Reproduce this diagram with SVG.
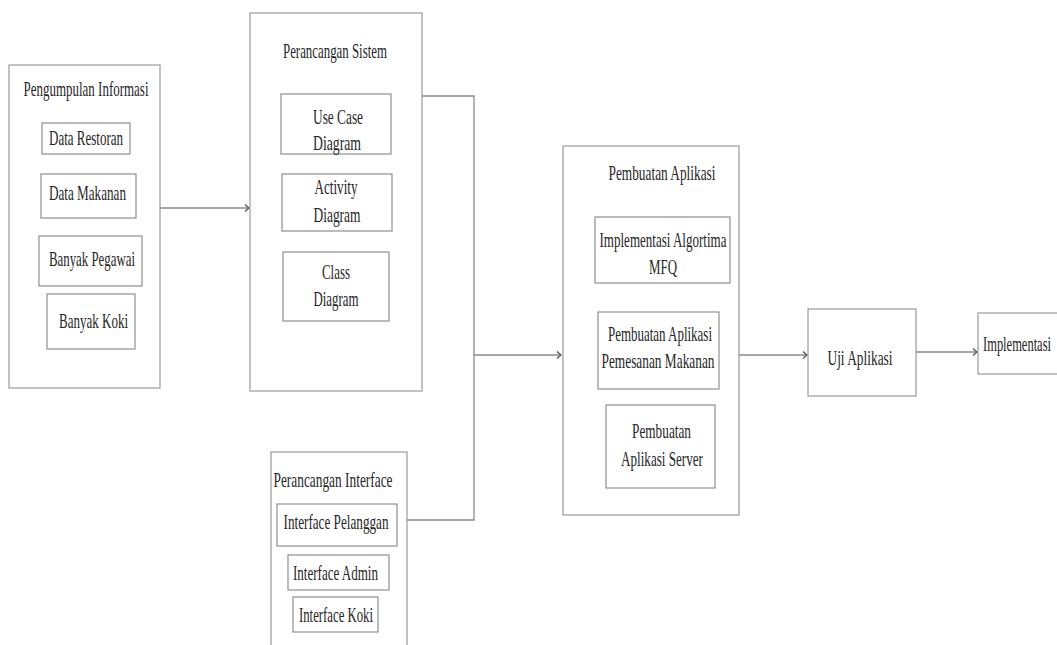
<svg xmlns="http://www.w3.org/2000/svg" width="1057" height="645" viewBox="0 0 1057 645">
  <defs>
    <marker id="chev" markerUnits="userSpaceOnUse" markerWidth="8" markerHeight="10" refX="5" refY="4" orient="auto">
      <path d="M1,0.5 L5,4 L1,7.5" fill="none" stroke="#555" stroke-width="1.3"/>
    </marker>
    <style>
      .box { fill: #fff; stroke: #9a9a9a; stroke-width: 1.2; }
      .item { fill: #fff; stroke: #8f8f8f; stroke-width: 1.2; }
      .lbl { font-family: "Liberation Serif", "Times New Roman", serif; font-size: 21px; fill: #262626; text-anchor: middle; }
      .edge { fill: none; stroke: #8a8a8a; stroke-width: 1.3; }
    </style>
  </defs>
  <rect width="1057" height="645" fill="#fff"/>

  <!-- connectors -->
  <g id="connectors">
    <path class="edge" d="M160,208 H249" marker-end="url(#chev)"/>
    <path class="edge" d="M422,96 H474 V355 H561" marker-end="url(#chev)"/>
    <path class="edge" d="M407,520 H474 V355"/>
    <path class="edge" d="M739,355 H807" marker-end="url(#chev)"/>
    <path class="edge" d="M916,352 H977" marker-end="url(#chev)"/>
  </g>

  <!-- Pengumpulan Informasi -->
  <g id="pengumpulan">
    <rect class="box" x="9" y="65" width="151" height="323"/>
    <text class="lbl" x="86" y="96" textLength="125" lengthAdjust="spacingAndGlyphs">Pengumpulan Informasi</text>
    <rect class="item" x="42" y="123" width="88" height="31"/>
    <text class="lbl" x="86" y="145" textLength="74" lengthAdjust="spacingAndGlyphs">Data Restoran</text>
    <rect class="item" x="41" y="174" width="95" height="44"/>
    <text class="lbl" x="87.5" y="200" textLength="77" lengthAdjust="spacingAndGlyphs">Data Makanan</text>
    <rect class="item" x="39" y="236" width="103" height="50"/>
    <text class="lbl" x="92" y="266" textLength="86" lengthAdjust="spacingAndGlyphs">Banyak Pegawai</text>
    <rect class="item" x="47" y="294" width="88" height="55"/>
    <text class="lbl" x="93.5" y="328" textLength="69" lengthAdjust="spacingAndGlyphs">Banyak Koki</text>
  </g>

  <!-- Perancangan Sistem -->
  <g id="perancangan-sistem">
    <rect class="box" x="250" y="13" width="172" height="378"/>
    <text class="lbl" x="335" y="58" textLength="104" lengthAdjust="spacingAndGlyphs">Perancangan Sistem</text>
    <rect class="item" x="281" y="94" width="110" height="60"/>
    <text class="lbl" x="338" y="124" textLength="50" lengthAdjust="spacingAndGlyphs">Use Case</text>
    <text class="lbl" x="337" y="150" textLength="48" lengthAdjust="spacingAndGlyphs">Diagram</text>
    <rect class="item" x="282" y="174" width="110" height="57"/>
    <text class="lbl" x="336" y="194" textLength="43" lengthAdjust="spacingAndGlyphs">Activity</text>
    <text class="lbl" x="337" y="222" textLength="47" lengthAdjust="spacingAndGlyphs">Diagram</text>
    <rect class="item" x="283" y="252" width="106" height="69"/>
    <text class="lbl" x="336" y="279" textLength="28" lengthAdjust="spacingAndGlyphs">Class</text>
    <text class="lbl" x="336" y="306" textLength="45" lengthAdjust="spacingAndGlyphs">Diagram</text>
  </g>

  <!-- Perancangan Interface -->
  <g id="perancangan-interface">
    <rect class="box" x="271" y="452" width="136" height="220"/>
    <text class="lbl" x="333" y="487" textLength="119" lengthAdjust="spacingAndGlyphs">Perancangan Interface</text>
    <rect class="item" x="277" y="504" width="120" height="42"/>
    <text class="lbl" x="336" y="529" textLength="105" lengthAdjust="spacingAndGlyphs">Interface Pelanggan</text>
    <rect class="item" x="288" y="555" width="101" height="35"/>
    <text class="lbl" x="335.5" y="580" textLength="85" lengthAdjust="spacingAndGlyphs">Interface Admin</text>
    <rect class="item" x="293" y="597" width="85" height="35"/>
    <text class="lbl" x="336" y="622" textLength="74" lengthAdjust="spacingAndGlyphs">Interface Koki</text>
  </g>

  <!-- Pembuatan Aplikasi -->
  <g id="pembuatan-aplikasi">
    <rect class="box" x="563" y="146" width="176" height="369"/>
    <text class="lbl" x="662" y="180" textLength="107" lengthAdjust="spacingAndGlyphs">Pembuatan Aplikasi</text>
    <rect class="item" x="595" y="217" width="135" height="66"/>
    <text class="lbl" x="663" y="247" textLength="127" lengthAdjust="spacingAndGlyphs">Implementasi Algortima</text>
    <text class="lbl" x="663" y="274" textLength="28" lengthAdjust="spacingAndGlyphs">MFQ</text>
    <rect class="item" x="598" y="312" width="121" height="77"/>
    <text class="lbl" x="660" y="341" textLength="104" lengthAdjust="spacingAndGlyphs">Pembuatan Aplikasi</text>
    <text class="lbl" x="658" y="368" textLength="113" lengthAdjust="spacingAndGlyphs">Pemesanan Makanan</text>
    <rect class="item" x="606" y="405" width="109" height="83"/>
    <text class="lbl" x="661.5" y="438" textLength="59" lengthAdjust="spacingAndGlyphs">Pembuatan</text>
    <text class="lbl" x="662" y="466" textLength="82" lengthAdjust="spacingAndGlyphs">Aplikasi Server</text>
  </g>

  <!-- Uji Aplikasi -->
  <g id="uji-aplikasi">
    <rect class="box" x="808" y="309" width="108" height="87"/>
    <text class="lbl" x="860" y="365" textLength="65" lengthAdjust="spacingAndGlyphs">Uji Aplikasi</text>
  </g>

  <!-- Implementasi -->
  <g id="implementasi">
    <rect class="box" x="978" y="313" width="100" height="61"/>
    <text class="lbl" x="983" y="351" style="text-anchor:start" textLength="68" lengthAdjust="spacingAndGlyphs">Implementasi</text>
  </g>
</svg>
